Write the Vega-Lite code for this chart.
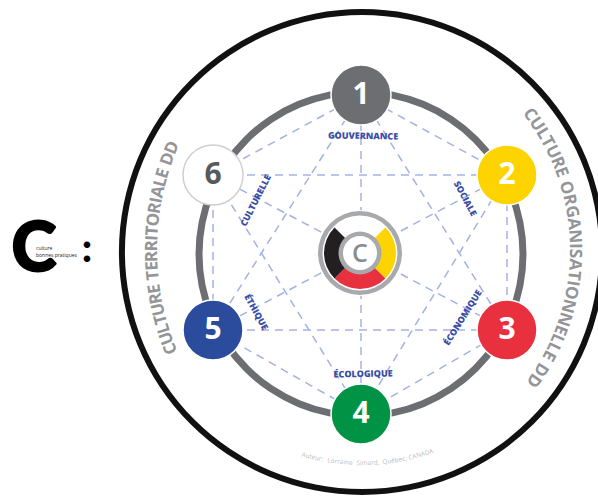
{
  "$schema": "https://vega.github.io/schema/vega-lite/v6.json",
  "width": 598,
  "height": 496,
  "autosize": "none",
  "padding": 0,
  "background": "white",
  "config": {"view": {"stroke": null}},
  "datasets": {
    "verts": [
      {"n": "1", "x": 361, "y": 95},
      {"n": "2", "x": 507, "y": 175},
      {"n": "3", "x": 507, "y": 330},
      {"n": "4", "x": 361, "y": 414},
      {"n": "5", "x": 213, "y": 330},
      {"n": "6", "x": 213, "y": 175}
    ],
    "edges": [
      {"x1": 361, "y1": 95, "x2": 507, "y2": 175},
      {"x1": 361, "y1": 95, "x2": 507, "y2": 330},
      {"x1": 361, "y1": 95, "x2": 361, "y2": 414},
      {"x1": 361, "y1": 95, "x2": 213, "y2": 330},
      {"x1": 361, "y1": 95, "x2": 213, "y2": 175},
      {"x1": 507, "y1": 175, "x2": 507, "y2": 330},
      {"x1": 507, "y1": 175, "x2": 361, "y2": 414},
      {"x1": 507, "y1": 175, "x2": 213, "y2": 330},
      {"x1": 507, "y1": 175, "x2": 213, "y2": 175},
      {"x1": 507, "y1": 330, "x2": 361, "y2": 414},
      {"x1": 507, "y1": 330, "x2": 213, "y2": 330},
      {"x1": 507, "y1": 330, "x2": 213, "y2": 175},
      {"x1": 361, "y1": 414, "x2": 213, "y2": 330},
      {"x1": 361, "y1": 414, "x2": 213, "y2": 175},
      {"x1": 213, "y1": 330, "x2": 213, "y2": 175}
    ],
    "wheel": [
      {"q": "E", "a": 45, "b": 135},
      {"q": "S", "a": 135, "b": 225},
      {"q": "W", "a": 225, "b": 315}
    ],
    "innerTop": [
      {"w": "GOUVERNANCE", "t": 1},
      {"w": "SOCIALE", "t": 62},
      {"w": "CULTURELLE", "t": 297}
    ],
    "innerBottom": [
      {"w": "ÉCONOMIQUE", "t": 122},
      {"w": "ÉCOLOGIQUE", "t": 179},
      {"w": "ÉTHIQUE", "t": 241}
    ],
    "right": [
      {"c": "C", "t": 53.0}, {"c": "U", "t": 56.0}, {"c": "L", "t": 58.8}, {"c": "T", "t": 61.3},
      {"c": "U", "t": 64.2}, {"c": "R", "t": 67.2}, {"c": "E", "t": 69.8},
      {"c": "O", "t": 74.0}, {"c": "R", "t": 77.1}, {"c": "G", "t": 80.2}, {"c": "A", "t": 83.3},
      {"c": "N", "t": 86.5}, {"c": "I", "t": 89.0}, {"c": "S", "t": 90.9}, {"c": "A", "t": 93.7},
      {"c": "T", "t": 96.5}, {"c": "I", "t": 98.5}, {"c": "O", "t": 100.9}, {"c": "N", "t": 104.4},
      {"c": "N", "t": 107.9}, {"c": "E", "t": 110.8}, {"c": "L", "t": 113.2}, {"c": "L", "t": 115.6},
      {"c": "E", "t": 118.0}, {"c": "D", "t": 122.1}, {"c": "D", "t": 125.4}
    ],
    "left": [
      {"c": "C", "t": 248.4}, {"c": "U", "t": 250.8}, {"c": "L", "t": 253.0}, {"c": "T", "t": 255.0},
      {"c": "U", "t": 257.2}, {"c": "R", "t": 259.6}, {"c": "E", "t": 261.7},
      {"c": "T", "t": 264.6}, {"c": "E", "t": 266.6}, {"c": "R", "t": 268.6}, {"c": "R", "t": 270.9},
      {"c": "I", "t": 272.6}, {"c": "T", "t": 274.1}, {"c": "O", "t": 276.5}, {"c": "R", "t": 279.0},
      {"c": "I", "t": 280.7}, {"c": "A", "t": 282.5}, {"c": "L", "t": 284.7}, {"c": "E", "t": 286.6},
      {"c": "D", "t": 289.8}, {"c": "D", "t": 292.4}
    ],
    "footer": [
      {"w": "Auteur:", "t": 193.6},
      {"w": "Lorraine", "t": 186.0},
      {"w": "Simard,", "t": 178.4},
      {"w": "Québec,", "t": 171.1},
      {"w": "CANADA", "t": 163.8}
    ]
  },
  "layer": [
    {
      "data": {"values": [{}]},
      "mark": {"type": "arc", "outerRadius": 243, "innerRadius": 237, "theta": 0, "theta2": 6.2832, "color": "#111111"},
      "encoding": {
        "x": {"datum": 362, "type": "quantitative", "scale": {"domain": [0, 598], "nice": false, "zero": false}, "axis": null},
        "y": {"datum": 252, "type": "quantitative", "scale": {"domain": [0, 496], "nice": false, "zero": false, "reverse": true}, "axis": null}
      }
    },
    {
      "data": {"values": [{}]},
      "mark": {"type": "arc", "outerRadius": 165.5, "innerRadius": 158.5, "theta": 0, "theta2": 6.2832, "color": "#6d6e71"},
      "encoding": {
        "x": {"datum": 361, "type": "quantitative"},
        "y": {"datum": 254, "type": "quantitative"}
      }
    },
    {
      "data": {"name": "edges"},
      "mark": {"type": "rule", "color": "#a3b2e3", "strokeWidth": 1.5, "strokeDash": [8, 6]},
      "encoding": {
        "x": {"field": "x1", "type": "quantitative"},
        "y": {"field": "y1", "type": "quantitative"},
        "x2": {"field": "x2"},
        "y2": {"field": "y2"}
      }
    },
    {
      "data": {"name": "innerTop"},
      "mark": {"type": "text", "radius": 118, "font": "Open Sans", "fontWeight": 800, "fontSize": 9, "color": "#3b4ea6", "align": "center", "baseline": "middle"},
      "encoding": {
        "x": {"datum": 361, "type": "quantitative"},
        "y": {"datum": 254, "type": "quantitative"},
        "theta": {"field": "t", "type": "quantitative", "stack": null, "scale": {"domain": [0, 360], "range": [0, 6.283185307179586]}},
        "angle": {"field": "t", "type": "quantitative", "scale": null},
        "text": {"field": "w", "type": "nominal"}
      }
    },
    {
      "data": {"name": "innerBottom"},
      "mark": {"type": "text", "radius": 120, "font": "Open Sans", "fontWeight": 800, "fontSize": 9, "color": "#3b4ea6", "align": "center", "baseline": "middle"},
      "encoding": {
        "x": {"datum": 361, "type": "quantitative"},
        "y": {"datum": 254, "type": "quantitative"},
        "theta": {"field": "t", "type": "quantitative", "stack": null, "scale": {"domain": [0, 360], "range": [0, 6.283185307179586]}},
        "angle": {"field": "t", "type": "quantitative", "scale": {"domain": [0, 360], "range": [-180, 180]}},
        "text": {"field": "w", "type": "nominal"}
      }
    },
    {
      "data": {"values": [{}]},
      "mark": {"type": "arc", "outerRadius": 43, "innerRadius": 0, "theta": 0, "theta2": 6.2832, "color": "#ffffff"},
      "encoding": {
        "x": {"datum": 360, "type": "quantitative"},
        "y": {"datum": 253, "type": "quantitative"}
      }
    },
    {
      "data": {"values": [{}]},
      "mark": {"type": "arc", "outerRadius": 42, "innerRadius": 37.5, "theta": 0, "theta2": 6.2832, "color": "#a7a9ac"},
      "encoding": {
        "x": {"datum": 360, "type": "quantitative"},
        "y": {"datum": 253, "type": "quantitative"}
      }
    },
    {
      "data": {"name": "wheel"},
      "mark": {"type": "arc", "outerRadius": 36, "innerRadius": 20},
      "encoding": {
        "x": {"datum": 360, "type": "quantitative"},
        "y": {"datum": 253, "type": "quantitative"},
        "theta": {"field": "a", "type": "quantitative", "stack": null, "scale": {"domain": [0, 360], "range": [0, 6.283185307179586]}},
        "theta2": {"field": "b"},
        "color": {"field": "q", "type": "nominal", "scale": {"domain": ["E", "S", "W"], "range": ["#fdd300", "#e8303f", "#231f20"]}, "legend": null}
      }
    },
    {
      "data": {"values": [{}]},
      "mark": {"type": "arc", "outerRadius": 21.5, "innerRadius": 17, "theta": 0, "theta2": 6.2832, "color": "#a7a9ac"},
      "encoding": {
        "x": {"datum": 360, "type": "quantitative"},
        "y": {"datum": 253, "type": "quantitative"}
      }
    },
    {
      "data": {"values": [{"s": "C"}]},
      "mark": {"type": "text", "font": "Open Sans", "fontWeight": 600, "fontSize": 25, "color": "#8a8c8e", "align": "center", "baseline": "middle"},
      "encoding": {
        "x": {"datum": 360, "type": "quantitative"},
        "y": {"datum": 254, "type": "quantitative"},
        "text": {"field": "s", "type": "nominal"}
      }
    },
    {
      "data": {"name": "verts"},
      "mark": {"type": "circle", "size": 3600, "opacity": 1, "strokeWidth": 1.5},
      "encoding": {
        "x": {"field": "x", "type": "quantitative"},
        "y": {"field": "y", "type": "quantitative"},
        "color": {"field": "n", "type": "nominal", "scale": {"domain": ["1", "2", "3", "4", "5", "6"], "range": ["#6d6e71", "#fdd300", "#e8303f", "#009245", "#2b4c9c", "#ffffff"]}, "legend": null},
        "stroke": {"field": "n", "type": "nominal", "scale": {"domain": ["1", "2", "3", "4", "5", "6"], "range": ["#ffffff", "#ffffff", "#ffffff", "#ffffff", "#ffffff", "#cfcfcf"]}, "legend": null}
      }
    },
    {
      "data": {"name": "verts"},
      "mark": {"type": "text", "font": "Open Sans", "fontWeight": 700, "fontSize": 30, "align": "center", "baseline": "middle"},
      "encoding": {
        "x": {"field": "x", "type": "quantitative"},
        "y": {"field": "y", "type": "quantitative"},
        "text": {"field": "n", "type": "nominal"},
        "color": {"field": "n", "type": "nominal", "scale": {"domain": ["1", "2", "3", "4", "5", "6"], "range": ["#ffffff", "#ffffff", "#ffffff", "#ffffff", "#ffffff", "#58595b"]}, "legend": null}
      }
    },
    {
      "data": {"name": "right"},
      "mark": {"type": "text", "radius": 225, "font": "Open Sans", "fontWeight": 700, "fontSize": 17, "color": "#939598", "align": "center", "baseline": "middle"},
      "encoding": {
        "x": {"datum": 350, "type": "quantitative"},
        "y": {"datum": 250, "type": "quantitative"},
        "theta": {"field": "t", "type": "quantitative", "stack": null, "scale": {"domain": [0, 360], "range": [0, 6.283185307179586]}},
        "angle": {"field": "t", "type": "quantitative", "scale": null},
        "text": {"field": "c", "type": "nominal"}
      }
    },
    {
      "data": {"name": "left"},
      "mark": {"type": "text", "radius": 268, "font": "Open Sans", "fontWeight": 700, "fontSize": 17, "color": "#939598", "align": "center", "baseline": "middle"},
      "encoding": {
        "x": {"datum": 420, "type": "quantitative"},
        "y": {"datum": 250, "type": "quantitative"},
        "theta": {"field": "t", "type": "quantitative", "stack": null, "scale": {"domain": [0, 360], "range": [0, 6.283185307179586]}},
        "angle": {"field": "t", "type": "quantitative", "scale": null},
        "text": {"field": "c", "type": "nominal"}
      }
    },
    {
      "data": {"name": "footer"},
      "mark": {"type": "text", "radius": 211, "font": "Open Sans", "fontSize": 6.4, "color": "#bdbdbd", "align": "center", "baseline": "middle"},
      "encoding": {
        "x": {"datum": 362, "type": "quantitative"},
        "y": {"datum": 252, "type": "quantitative"},
        "theta": {"field": "t", "type": "quantitative", "stack": null, "scale": {"domain": [0, 360], "range": [0, 6.283185307179586]}},
        "angle": {"field": "t", "type": "quantitative", "scale": {"domain": [0, 360], "range": [-180, 180]}},
        "text": {"field": "w", "type": "nominal"}
      }
    },
    {
      "data": {"values": [{"s": "C"}]},
      "mark": {"type": "text", "font": "Lato", "fontWeight": 900, "fontSize": 68, "color": "#000000", "stroke": "#000000", "strokeWidth": 2, "strokeJoin": "round", "align": "center", "baseline": "middle"},
      "encoding": {
        "x": {"datum": 34, "type": "quantitative"},
        "y": {"datum": 251, "type": "quantitative"},
        "text": {"field": "s", "type": "nominal"}
      }
    },
    {
      "data": {"values": [{"s": ["culture", "bonnes pratiques"]}]},
      "mark": {"type": "text", "font": "Open Sans", "fontSize": 5, "lineHeight": 7, "color": "#222222", "align": "left", "baseline": "middle"},
      "encoding": {
        "x": {"datum": 36, "type": "quantitative"},
        "y": {"datum": 248, "type": "quantitative"},
        "text": {"field": "s", "type": "nominal"}
      }
    },
    {
      "data": {"values": [{"s": ":"}]},
      "mark": {"type": "text", "font": "Lato", "fontWeight": 900, "fontSize": 40, "color": "#000000", "align": "center", "baseline": "alphabetic"},
      "encoding": {
        "x": {"datum": 87, "type": "quantitative"},
        "y": {"datum": 262, "type": "quantitative"},
        "text": {"field": "s", "type": "nominal"}
      }
    }
  ],
  "resolve": {"scale": {"color": "independent", "angle": "independent", "stroke": "independent"}}
}
